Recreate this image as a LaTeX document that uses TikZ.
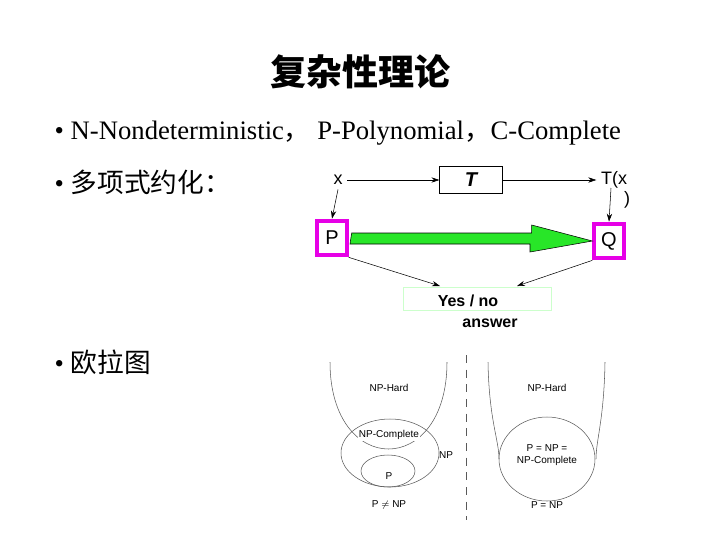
\documentclass[tikz,border=0pt]{standalone}
\usepackage{fontspec}
\setmainfont{Liberation Serif}
\newfontfamily\cjk{Noto Sans CJK SC}
\newfontfamily\sans{Liberation Sans}
\usetikzlibrary{positioning,arrows.meta}
\definecolor{boxpink}{RGB}{230,0,230}
\definecolor{arrgreen}{RGB}{40,230,40}
\tikzset{
  bul/.style={anchor=west,font=\fontsize{20}{22}\selectfont},
  lab/.style={font=\sans\fontsize{13.5}{14}\selectfont},
  eul/.style={font=\sans\fontsize{7.5}{8.5}\selectfont,inner sep=0pt},
  pqbox/.style={draw=boxpink,line width=3pt,lab,font=\sans\fontsize{15}{16}\selectfont,minimum width=22pt,minimum height=26pt,inner sep=0pt},
  conn/.style={-{Stealth[length=6pt,width=4pt]},thin},
  curve/.style={gray!70!black,thin}
}
\begin{document}
\begin{tikzpicture}[x=0.75pt,y=-0.75pt]
  \useasboundingbox (0,0) rectangle (720,540);
  % title and bullets
  \node (title) at (360,72) {\cjk\bfseries\fontsize{27}{30}\selectfont 复杂性理论};
  \node[bul] (b1) at (50,133) {•\ N-Nondeterministic{\cjk，} P-Polynomial{\cjk，}C-Complete};
  \node[bul] (b2) at (50,182) {•\ {\cjk 多项式约化：}};
  \node[bul] (b3) at (50,362) {•\ {\cjk 欧拉图}};
  % reduction
  \node[lab] (x) at (338,180) {x};
  \node[draw,thin,minimum width=47pt,minimum height=20pt,font=\sans\bfseries\itshape\fontsize{15}{16}\selectfont] (T) at (471,180) {T};
  \node[lab] (Tx) at (614,180) {T(x};
  \node[lab] (par) at (627,200) {)};
  \node[pqbox] (P) at (332,238) {P};
  \node[pqbox] (Q) at (609,241) {Q};
  \node[draw=green!20,thin,minimum width=111pt,minimum height=17pt] (yn) at (477,299) {};
  \node[lab,font=\sans\bfseries\fontsize{12}{13}\selectfont] (yes) at (468,301) {Yes / no};
  \node[lab,font=\sans\bfseries\fontsize{12}{13}\selectfont] (ans) at (490,323) {answer};
  \draw[conn] (x) -- (T);
  \draw[conn] (T) -- (Tx);
  \draw[conn] (x.south) -- (P.north);
  \draw[conn] (611,188) -- (Q.north);
  \draw[conn] (P.south east) -- (440,286);
  \draw[conn] (Q.south west) -- (517,286);
  \draw[fill=arrgreen,thin] (P.east) ++(3,-5) -- ++(180,0) -- ++(0,-8) -- (Q.west) -- (530,252) -- ++(0,-8) -- ++(-180,0) -- cycle;
  % euler diagrams
  \draw[curve] (330,362) .. controls (330,478) and (447,478) .. (447,362);
  \draw[curve] (390,453) ellipse [x radius=49,y radius=34];
  \draw[curve] (388,471) ellipse [x radius=27,y radius=16];
  \node[eul] (lh) at (389,388) {NP-Hard};
  \node[eul,fill=white,inner sep=1pt] (lc) at (389,435) {NP-Complete};
  \node[eul] (lnp) at (446,455) {NP};
  \node[eul] (lp) at (389,476) {P};
  \node[eul] (lne) at (389,505) {P $\neq$ NP};
  \draw[curve,dash pattern=on 6pt off 5pt] (466,355) -- (466,520);
  \draw[curve] (488,362) .. controls (489,420) and (499,440) .. (499,459);
  \draw[curve] (605,362) .. controls (604,420) and (596,440) .. (596,459);
  \draw[curve] (547,459) ellipse [x radius=48,y radius=42];
  \node[eul] (rh) at (547,388) {NP-Hard};
  \node[eul,align=center] (rc) at (547,455) {P = NP =\\NP-Complete};
  \node[eul] (req) at (547,505) {P = NP};
\end{tikzpicture}
\end{document}
